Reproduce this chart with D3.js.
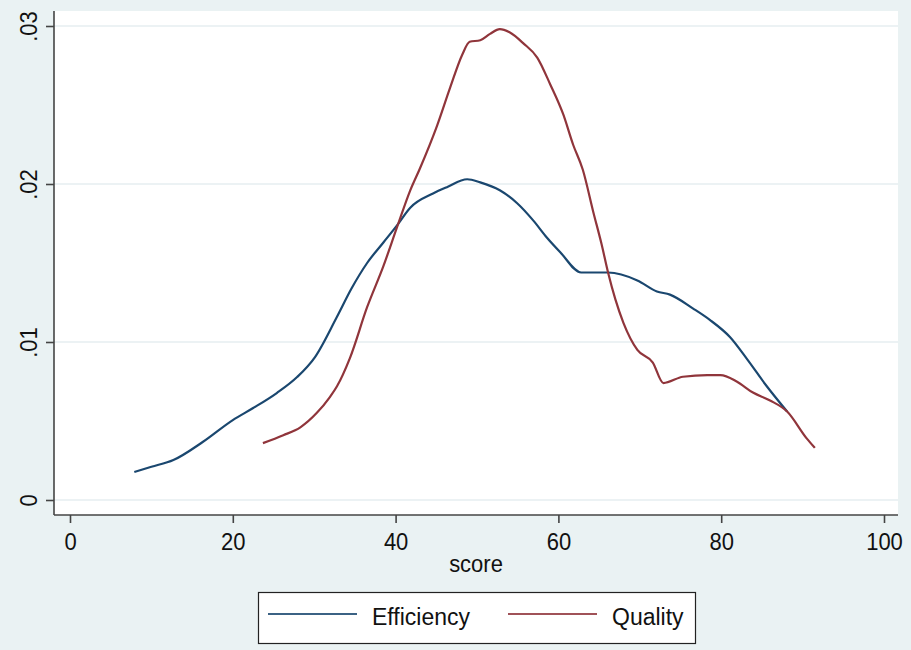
<!DOCTYPE html>
<html><head><meta charset="utf-8">
<script src="https://cdn.jsdelivr.net/npm/d3@7"></script>
<style>body{margin:0;background:#eaf2f3}</style>
</head><body>
<svg id="c" width="911" height="650"></svg>
<script>
const effX = [7.9, 10, 12.7, 16.3, 20.0, 22.5, 25.4, 27.9, 30.1, 32.8, 34.6, 36.5, 38.5, 40.2, 41.8, 44.6, 46.3, 48.8, 50.4, 52.8, 54.9, 56.9, 58.6, 60.2, 62.8, 66.1, 69.7, 72.1, 73.7, 76.6, 78.6, 81.1, 83.2, 85.6, 88.1];
const effY = [.00177, .0021, .00253, .00367, .00506, .00582, .00677, .00778, .00905, .0116, .0134, .0150, .0163, .0174, .0185, .0194, .0198, .0203, .0201, .0196, .0188, .0177, .0166, .0157, .0144, .0144, .0139, .0132, .0130, .0121, .0114, .0103, .0089, .0072, .0056];
const qualX = [23.7, 26.2, 28.3, 30.3, 31.9, 32.8, 34.4, 36.5, 38.5, 40.2, 41.8, 43.0, 45.1, 46.7, 48.2, 49.1, 50.4, 51.6, 52.8, 54.0, 55.7, 57.4, 59.0, 60.6, 61.8, 63.0, 64.3, 65.3, 66.1, 67.0, 68.0, 69.7, 71.6, 72.9, 75.3, 78.3, 79.9, 81.9, 83.9, 86.0, 88.1, 90.5, 91.5];
const qualY = [.0036, .0041, .0046, .0055, .0065, .0072, .0090, .0122, .0148, .0173, .0196, .0210, .0237, .0261, .0282, .0290, .0291, .0295, .0298, .0296, .0289, .0280, .0263, .0244, .0225, .0209, .0182, .0162, .0144, .0127, .0112, .0095, .0087, .0074, .0078, .0079, .0079, .0075, .0068, .0063, .0056, .0039, .0033];
const xTicks = [0, 20, 40, 60, 80, 100];
const yTicks = [0, .01, .02, .03];
const yTickLabels = ["0", ".01", ".02", ".03"];
const seriesNames = ["Efficiency", "Quality"];
const xTitle = "score";

const svg = d3.select("#c");
const FONT = "'Liberation Sans', Arial, sans-serif";
const x = d3.scaleLinear().domain([0, 100]).range([70, 884]);
const y = d3.scaleLinear().domain([0, .03]).range([500, 26]);
const plotL = 54, plotR = 898, plotT = 11, plotB = 515;
const SY = 1.08;

svg.append("rect").attr("width", 911).attr("height", 650).attr("fill", "#eaf2f3");
svg.append("rect").attr("x", plotL).attr("y", plotT).attr("width", plotR - plotL).attr("height", plotB - plotT).attr("fill", "#ffffff");

svg.append("g").selectAll("line").data(yTicks).join("line")
  .attr("x1", plotL).attr("x2", plotR)
  .attr("y1", d => y(d)).attr("y2", d => y(d))
  .attr("stroke", "#e6eef0").attr("stroke-width", 1.6);

const xAxis = d3.axisBottom(x).tickValues(xTicks).tickSize(8).tickPadding(6).tickFormat(d3.format("d"));
const gx = svg.append("g").attr("transform", `translate(0,${plotB})`).call(xAxis);
gx.select(".domain").attr("d", `M${plotL},0H${plotR}`);
const yAxis = d3.axisLeft(y).tickValues(yTicks).tickSize(8).tickFormat((d, i) => yTickLabels[i]);
const gy = svg.append("g").attr("transform", `translate(${plotL},0)`).call(yAxis);
gy.select(".domain").attr("d", `M0,${plotT}V${plotB}`);
[gx, gy].forEach(g => {
  g.selectAll(".domain").attr("stroke", "#444").attr("stroke-width", 1.6);
  g.selectAll(".tick line").attr("stroke", "#444").attr("stroke-width", 1.6);
  g.selectAll("text").attr("font-family", FONT).attr("font-size", 22).attr("fill", "#111");
});
gx.selectAll(".tick text").attr("dy", null).attr("y", 0)
  .attr("transform", `translate(0,35) scale(1,${SY})`);
gy.selectAll(".tick text").attr("x", 0).attr("y", 0).attr("dy", null)
  .attr("text-anchor", "middle")
  .attr("transform", `translate(-17,0) rotate(-90) scale(1,${SY})`);

svg.append("text").attr("transform", `translate(476,572) scale(1,${SY})`).attr("text-anchor", "middle")
  .attr("font-family", FONT).attr("font-size", 22).attr("fill", "#111").text(xTitle);

const line = d3.line().x(d => x(d[0])).y(d => y(d[1])).curve(d3.curveMonotoneX);
const effData = effX.map((v, i) => [v, effY[i]]);
const qualData = qualX.map((v, i) => [v, qualY[i]]);
const colors = ["#1a476f", "#90353b"];
svg.append("path").datum(effData).attr("d", line).attr("fill", "none").attr("stroke", colors[0]).attr("stroke-width", 2.2);
svg.append("path").datum(qualData).attr("d", line).attr("fill", "none").attr("stroke", colors[1]).attr("stroke-width", 2.2);

const lg = svg.append("g");
lg.append("rect").attr("x", 258.5).attr("y", 592.5).attr("width", 437).attr("height", 51)
  .attr("fill", "#fff").attr("stroke", "#222").attr("stroke-width", 1.2);
const legItems = [{x1: 268, x2: 357, tx: 372}, {x1: 508, x2: 597, tx: 612}];
legItems.forEach((it, i) => {
  lg.append("line").attr("x1", it.x1).attr("x2", it.x2).attr("y1", 614).attr("y2", 614)
    .attr("stroke", colors[i]).attr("stroke-width", 2.2).attr("opacity", 0.85);
  lg.append("text").attr("transform", `translate(${it.tx},625) scale(1,${SY})`)
    .attr("font-family", FONT).attr("font-size", 23)
    .attr("fill", "#111").text(seriesNames[i]);
});
</script>
</body></html>
